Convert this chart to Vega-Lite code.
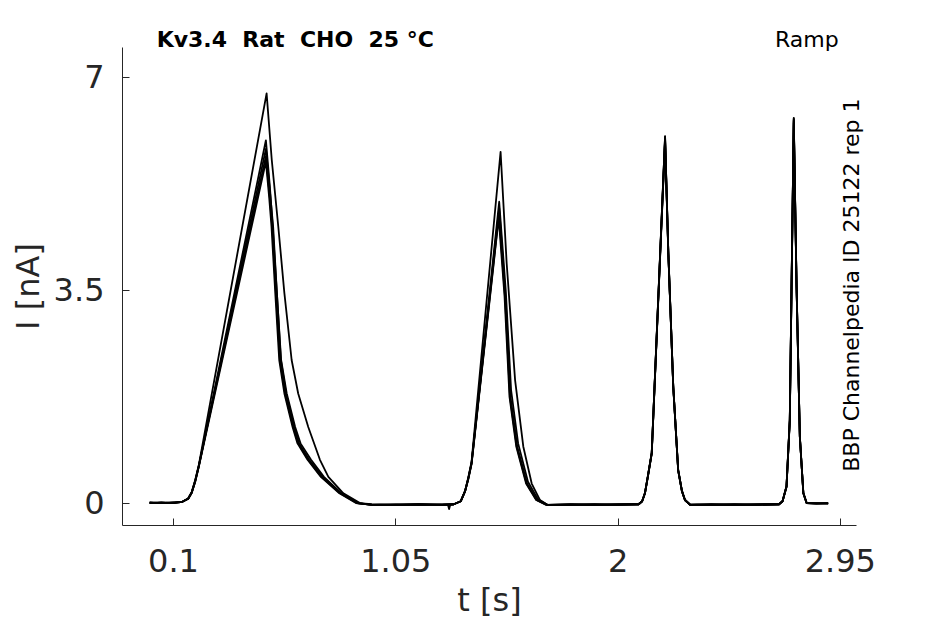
{
  "$schema": "https://vega.github.io/schema/vega-lite/v6.json",
  "width": 734,
  "height": 478,
  "autosize": {"type": "none"},
  "padding": {"left": 122, "top": 47, "right": 89, "bottom": 99},
  "background": "white",
  "datasets": {
    "traces": [
      {"trace": "A", "t": 0, "I": 0}, {"trace": "A", "t": 0.05, "I": 0.01}, {"trace": "A", "t": 0.1, "I": 0}, {"trace": "A", "t": 0.14, "I": 0.02}, {"trace": "A", "t": 0.165, "I": 0.07}, {"trace": "A", "t": 0.18, "I": 0.18}, {"trace": "A", "t": 0.195, "I": 0.38}, {"trace": "A", "t": 0.21, "I": 0.62}, {"trace": "A", "t": 0.5, "I": 6.73}, {"trace": "A", "t": 0.522, "I": 5.64}, {"trace": "A", "t": 0.55, "I": 4.54}, {"trace": "A", "t": 0.576, "I": 3.45}, {"trace": "A", "t": 0.607, "I": 2.35}, {"trace": "A", "t": 0.635, "I": 1.8}, {"trace": "A", "t": 0.678, "I": 1.25}, {"trace": "A", "t": 0.728, "I": 0.71}, {"trace": "A", "t": 0.764, "I": 0.43}, {"trace": "A", "t": 0.828, "I": 0.16}, {"trace": "A", "t": 0.899, "I": 0}, {"trace": "A", "t": 0.95, "I": -0.03}, {"trace": "A", "t": 1.05, "I": -0.03}, {"trace": "A", "t": 1.15, "I": -0.02}, {"trace": "A", "t": 1.25, "I": -0.03}, {"trace": "A", "t": 1.3, "I": -0.02}, {"trace": "A", "t": 1.33, "I": 0.03}, {"trace": "A", "t": 1.348, "I": 0.19}, {"trace": "A", "t": 1.362, "I": 0.42}, {"trace": "A", "t": 1.376, "I": 0.68}, {"trace": "A", "t": 1.5, "I": 5.77}, {"trace": "A", "t": 1.526, "I": 3.94}, {"trace": "A", "t": 1.562, "I": 2.02}, {"trace": "A", "t": 1.597, "I": 0.93}, {"trace": "A", "t": 1.633, "I": 0.32}, {"trace": "A", "t": 1.668, "I": 0.05}, {"trace": "A", "t": 1.7, "I": -0.03}, {"trace": "A", "t": 1.8, "I": -0.03}, {"trace": "A", "t": 1.9, "I": -0.02}, {"trace": "A", "t": 2.0, "I": -0.03}, {"trace": "A", "t": 2.09, "I": -0.02}, {"trace": "A", "t": 2.105, "I": 0.03}, {"trace": "A", "t": 2.117, "I": 0.16}, {"trace": "A", "t": 2.13, "I": 0.45}, {"trace": "A", "t": 2.146, "I": 0.82}, {"trace": "A", "t": 2.203, "I": 6.03}, {"trace": "A", "t": 2.217, "I": 4.1}, {"trace": "A", "t": 2.238, "I": 1.91}, {"trace": "A", "t": 2.259, "I": 0.54}, {"trace": "A", "t": 2.275, "I": 0.2}, {"trace": "A", "t": 2.288, "I": 0.05}, {"trace": "A", "t": 2.31, "I": -0.03}, {"trace": "A", "t": 2.4, "I": -0.03}, {"trace": "A", "t": 2.5, "I": -0.02}, {"trace": "A", "t": 2.6, "I": -0.03}, {"trace": "A", "t": 2.69, "I": -0.02}, {"trace": "A", "t": 2.705, "I": 0.03}, {"trace": "A", "t": 2.722, "I": 0.27}, {"trace": "A", "t": 2.736, "I": 1.36}, {"trace": "A", "t": 2.753, "I": 6.32}, {"trace": "A", "t": 2.765, "I": 3.55}, {"trace": "A", "t": 2.779, "I": 1.09}, {"trace": "A", "t": 2.794, "I": 0.16}, {"trace": "A", "t": 2.808, "I": 0}, {"trace": "A", "t": 2.85, "I": -0.01}, {"trace": "A", "t": 2.9, "I": 0},

      {"trace": "B", "t": 0, "I": 0}, {"trace": "B", "t": 0.05, "I": 0.01}, {"trace": "B", "t": 0.1, "I": 0}, {"trace": "B", "t": 0.14, "I": 0.02}, {"trace": "B", "t": 0.165, "I": 0.07}, {"trace": "B", "t": 0.18, "I": 0.17}, {"trace": "B", "t": 0.195, "I": 0.36}, {"trace": "B", "t": 0.21, "I": 0.6}, {"trace": "B", "t": 0.497, "I": 5.96}, {"trace": "B", "t": 0.514, "I": 5.2}, {"trace": "B", "t": 0.526, "I": 4.54}, {"trace": "B", "t": 0.544, "I": 3.45}, {"trace": "B", "t": 0.562, "I": 2.35}, {"trace": "B", "t": 0.586, "I": 1.8}, {"trace": "B", "t": 0.622, "I": 1.25}, {"trace": "B", "t": 0.645, "I": 0.98}, {"trace": "B", "t": 0.69, "I": 0.71}, {"trace": "B", "t": 0.745, "I": 0.43}, {"trace": "B", "t": 0.82, "I": 0.16}, {"trace": "B", "t": 0.89, "I": 0}, {"trace": "B", "t": 0.95, "I": -0.02}, {"trace": "B", "t": 1.05, "I": -0.03}, {"trace": "B", "t": 1.15, "I": -0.02}, {"trace": "B", "t": 1.25, "I": -0.03}, {"trace": "B", "t": 1.3, "I": -0.02}, {"trace": "B", "t": 1.33, "I": 0.03}, {"trace": "B", "t": 1.348, "I": 0.19}, {"trace": "B", "t": 1.362, "I": 0.4}, {"trace": "B", "t": 1.376, "I": 0.66}, {"trace": "B", "t": 1.494, "I": 4.95}, {"trace": "B", "t": 1.522, "I": 3.5}, {"trace": "B", "t": 1.545, "I": 1.85}, {"trace": "B", "t": 1.575, "I": 0.98}, {"trace": "B", "t": 1.617, "I": 0.35}, {"trace": "B", "t": 1.66, "I": 0.06}, {"trace": "B", "t": 1.7, "I": -0.03}, {"trace": "B", "t": 1.8, "I": -0.02}, {"trace": "B", "t": 1.9, "I": -0.03}, {"trace": "B", "t": 2.0, "I": -0.02}, {"trace": "B", "t": 2.09, "I": -0.02}, {"trace": "B", "t": 2.105, "I": 0.03}, {"trace": "B", "t": 2.117, "I": 0.16}, {"trace": "B", "t": 2.13, "I": 0.45}, {"trace": "B", "t": 2.146, "I": 0.82}, {"trace": "B", "t": 2.203, "I": 6.0}, {"trace": "B", "t": 2.217, "I": 4.1}, {"trace": "B", "t": 2.238, "I": 1.91}, {"trace": "B", "t": 2.259, "I": 0.54}, {"trace": "B", "t": 2.275, "I": 0.2}, {"trace": "B", "t": 2.288, "I": 0.05}, {"trace": "B", "t": 2.31, "I": -0.02}, {"trace": "B", "t": 2.4, "I": -0.03}, {"trace": "B", "t": 2.5, "I": -0.02}, {"trace": "B", "t": 2.6, "I": -0.03}, {"trace": "B", "t": 2.69, "I": -0.02}, {"trace": "B", "t": 2.705, "I": 0.03}, {"trace": "B", "t": 2.722, "I": 0.27}, {"trace": "B", "t": 2.736, "I": 1.36}, {"trace": "B", "t": 2.753, "I": 6.3}, {"trace": "B", "t": 2.765, "I": 3.55}, {"trace": "B", "t": 2.779, "I": 1.09}, {"trace": "B", "t": 2.794, "I": 0.16}, {"trace": "B", "t": 2.808, "I": 0}, {"trace": "B", "t": 2.85, "I": 0}, {"trace": "B", "t": 2.9, "I": -0.01},

      {"trace": "C", "t": 0, "I": 0.01}, {"trace": "C", "t": 0.05, "I": 0}, {"trace": "C", "t": 0.1, "I": 0.01}, {"trace": "C", "t": 0.14, "I": 0.02}, {"trace": "C", "t": 0.165, "I": 0.07}, {"trace": "C", "t": 0.18, "I": 0.17}, {"trace": "C", "t": 0.195, "I": 0.36}, {"trace": "C", "t": 0.21, "I": 0.6}, {"trace": "C", "t": 0.497, "I": 5.82}, {"trace": "C", "t": 0.516, "I": 5.05}, {"trace": "C", "t": 0.528, "I": 4.54}, {"trace": "C", "t": 0.544, "I": 3.45}, {"trace": "C", "t": 0.561, "I": 2.35}, {"trace": "C", "t": 0.583, "I": 1.8}, {"trace": "C", "t": 0.618, "I": 1.25}, {"trace": "C", "t": 0.639, "I": 0.98}, {"trace": "C", "t": 0.682, "I": 0.71}, {"trace": "C", "t": 0.739, "I": 0.43}, {"trace": "C", "t": 0.818, "I": 0.16}, {"trace": "C", "t": 0.889, "I": 0}, {"trace": "C", "t": 0.95, "I": -0.03}, {"trace": "C", "t": 1.05, "I": -0.035}, {"trace": "C", "t": 1.15, "I": -0.03}, {"trace": "C", "t": 1.25, "I": -0.03}, {"trace": "C", "t": 1.275, "I": -0.03}, {"trace": "C", "t": 1.28, "I": -0.1}, {"trace": "C", "t": 1.285, "I": -0.03}, {"trace": "C", "t": 1.3, "I": -0.02}, {"trace": "C", "t": 1.33, "I": 0.03}, {"trace": "C", "t": 1.348, "I": 0.19}, {"trace": "C", "t": 1.362, "I": 0.4}, {"trace": "C", "t": 1.376, "I": 0.65}, {"trace": "C", "t": 1.494, "I": 4.85}, {"trace": "C", "t": 1.521, "I": 3.39}, {"trace": "C", "t": 1.542, "I": 1.75}, {"trace": "C", "t": 1.571, "I": 0.93}, {"trace": "C", "t": 1.613, "I": 0.32}, {"trace": "C", "t": 1.656, "I": 0.05}, {"trace": "C", "t": 1.7, "I": -0.03}, {"trace": "C", "t": 1.8, "I": -0.03}, {"trace": "C", "t": 1.9, "I": -0.035}, {"trace": "C", "t": 2.0, "I": -0.03}, {"trace": "C", "t": 2.09, "I": -0.02}, {"trace": "C", "t": 2.105, "I": 0.03}, {"trace": "C", "t": 2.117, "I": 0.16}, {"trace": "C", "t": 2.13, "I": 0.45}, {"trace": "C", "t": 2.146, "I": 0.82}, {"trace": "C", "t": 2.203, "I": 5.97}, {"trace": "C", "t": 2.217, "I": 4.1}, {"trace": "C", "t": 2.238, "I": 1.91}, {"trace": "C", "t": 2.259, "I": 0.54}, {"trace": "C", "t": 2.275, "I": 0.2}, {"trace": "C", "t": 2.288, "I": 0.05}, {"trace": "C", "t": 2.31, "I": -0.03}, {"trace": "C", "t": 2.4, "I": -0.03}, {"trace": "C", "t": 2.5, "I": -0.035}, {"trace": "C", "t": 2.6, "I": -0.03}, {"trace": "C", "t": 2.69, "I": -0.02}, {"trace": "C", "t": 2.705, "I": 0.03}, {"trace": "C", "t": 2.722, "I": 0.27}, {"trace": "C", "t": 2.736, "I": 1.36}, {"trace": "C", "t": 2.753, "I": 6.28}, {"trace": "C", "t": 2.765, "I": 3.55}, {"trace": "C", "t": 2.779, "I": 1.09}, {"trace": "C", "t": 2.794, "I": 0.16}, {"trace": "C", "t": 2.808, "I": 0}, {"trace": "C", "t": 2.85, "I": -0.01}, {"trace": "C", "t": 2.9, "I": 0},

      {"trace": "D", "t": 0, "I": 0}, {"trace": "D", "t": 0.05, "I": 0}, {"trace": "D", "t": 0.1, "I": 0.01}, {"trace": "D", "t": 0.14, "I": 0.02}, {"trace": "D", "t": 0.165, "I": 0.08}, {"trace": "D", "t": 0.18, "I": 0.18}, {"trace": "D", "t": 0.195, "I": 0.37}, {"trace": "D", "t": 0.21, "I": 0.61}, {"trace": "D", "t": 0.497, "I": 5.7}, {"trace": "D", "t": 0.513, "I": 5.05}, {"trace": "D", "t": 0.524, "I": 4.54}, {"trace": "D", "t": 0.54, "I": 3.45}, {"trace": "D", "t": 0.557, "I": 2.35}, {"trace": "D", "t": 0.579, "I": 1.8}, {"trace": "D", "t": 0.614, "I": 1.25}, {"trace": "D", "t": 0.635, "I": 0.98}, {"trace": "D", "t": 0.678, "I": 0.71}, {"trace": "D", "t": 0.735, "I": 0.43}, {"trace": "D", "t": 0.814, "I": 0.16}, {"trace": "D", "t": 0.885, "I": 0}, {"trace": "D", "t": 0.95, "I": -0.03}, {"trace": "D", "t": 1.05, "I": -0.02}, {"trace": "D", "t": 1.15, "I": -0.03}, {"trace": "D", "t": 1.25, "I": -0.02}, {"trace": "D", "t": 1.3, "I": -0.02}, {"trace": "D", "t": 1.33, "I": 0.03}, {"trace": "D", "t": 1.348, "I": 0.2}, {"trace": "D", "t": 1.362, "I": 0.41}, {"trace": "D", "t": 1.376, "I": 0.66}, {"trace": "D", "t": 1.493, "I": 4.75}, {"trace": "D", "t": 1.519, "I": 3.39}, {"trace": "D", "t": 1.54, "I": 1.75}, {"trace": "D", "t": 1.569, "I": 0.93}, {"trace": "D", "t": 1.611, "I": 0.32}, {"trace": "D", "t": 1.654, "I": 0.05}, {"trace": "D", "t": 1.697, "I": -0.03}, {"trace": "D", "t": 1.8, "I": -0.02}, {"trace": "D", "t": 1.9, "I": -0.03}, {"trace": "D", "t": 2.0, "I": -0.02}, {"trace": "D", "t": 2.09, "I": -0.02}, {"trace": "D", "t": 2.105, "I": 0.03}, {"trace": "D", "t": 2.117, "I": 0.17}, {"trace": "D", "t": 2.13, "I": 0.46}, {"trace": "D", "t": 2.146, "I": 0.83}, {"trace": "D", "t": 2.203, "I": 6.02}, {"trace": "D", "t": 2.217, "I": 4.12}, {"trace": "D", "t": 2.238, "I": 1.92}, {"trace": "D", "t": 2.259, "I": 0.55}, {"trace": "D", "t": 2.275, "I": 0.2}, {"trace": "D", "t": 2.288, "I": 0.05}, {"trace": "D", "t": 2.31, "I": -0.03}, {"trace": "D", "t": 2.4, "I": -0.02}, {"trace": "D", "t": 2.5, "I": -0.03}, {"trace": "D", "t": 2.6, "I": -0.02}, {"trace": "D", "t": 2.69, "I": -0.02}, {"trace": "D", "t": 2.705, "I": 0.03}, {"trace": "D", "t": 2.722, "I": 0.28}, {"trace": "D", "t": 2.736, "I": 1.38}, {"trace": "D", "t": 2.753, "I": 6.33}, {"trace": "D", "t": 2.765, "I": 3.57}, {"trace": "D", "t": 2.779, "I": 1.1}, {"trace": "D", "t": 2.794, "I": 0.17}, {"trace": "D", "t": 2.808, "I": 0}, {"trace": "D", "t": 2.85, "I": -0.01}, {"trace": "D", "t": 2.9, "I": 0},

      {"trace": "E", "t": 0, "I": 0.01}, {"trace": "E", "t": 0.05, "I": 0}, {"trace": "E", "t": 0.1, "I": 0}, {"trace": "E", "t": 0.14, "I": 0.02}, {"trace": "E", "t": 0.165, "I": 0.07}, {"trace": "E", "t": 0.18, "I": 0.17}, {"trace": "E", "t": 0.195, "I": 0.35}, {"trace": "E", "t": 0.21, "I": 0.59}, {"trace": "E", "t": 0.497, "I": 5.61}, {"trace": "E", "t": 0.511, "I": 5.02}, {"trace": "E", "t": 0.521, "I": 4.54}, {"trace": "E", "t": 0.537, "I": 3.45}, {"trace": "E", "t": 0.554, "I": 2.35}, {"trace": "E", "t": 0.576, "I": 1.8}, {"trace": "E", "t": 0.611, "I": 1.25}, {"trace": "E", "t": 0.632, "I": 0.98}, {"trace": "E", "t": 0.675, "I": 0.71}, {"trace": "E", "t": 0.732, "I": 0.43}, {"trace": "E", "t": 0.811, "I": 0.16}, {"trace": "E", "t": 0.882, "I": 0}, {"trace": "E", "t": 0.95, "I": -0.03}, {"trace": "E", "t": 1.05, "I": -0.03}, {"trace": "E", "t": 1.15, "I": -0.02}, {"trace": "E", "t": 1.25, "I": -0.03}, {"trace": "E", "t": 1.3, "I": -0.02}, {"trace": "E", "t": 1.33, "I": 0.03}, {"trace": "E", "t": 1.348, "I": 0.19}, {"trace": "E", "t": 1.362, "I": 0.39}, {"trace": "E", "t": 1.376, "I": 0.64}, {"trace": "E", "t": 1.492, "I": 4.68}, {"trace": "E", "t": 1.517, "I": 3.39}, {"trace": "E", "t": 1.538, "I": 1.75}, {"trace": "E", "t": 1.567, "I": 0.93}, {"trace": "E", "t": 1.609, "I": 0.32}, {"trace": "E", "t": 1.652, "I": 0.05}, {"trace": "E", "t": 1.695, "I": -0.03}, {"trace": "E", "t": 1.8, "I": -0.03}, {"trace": "E", "t": 1.9, "I": -0.02}, {"trace": "E", "t": 2.0, "I": -0.03}, {"trace": "E", "t": 2.09, "I": -0.02}, {"trace": "E", "t": 2.105, "I": 0.03}, {"trace": "E", "t": 2.117, "I": 0.16}, {"trace": "E", "t": 2.13, "I": 0.44}, {"trace": "E", "t": 2.146, "I": 0.81}, {"trace": "E", "t": 2.203, "I": 5.95}, {"trace": "E", "t": 2.217, "I": 4.08}, {"trace": "E", "t": 2.238, "I": 1.9}, {"trace": "E", "t": 2.259, "I": 0.53}, {"trace": "E", "t": 2.275, "I": 0.19}, {"trace": "E", "t": 2.288, "I": 0.05}, {"trace": "E", "t": 2.31, "I": -0.03}, {"trace": "E", "t": 2.4, "I": -0.02}, {"trace": "E", "t": 2.5, "I": -0.03}, {"trace": "E", "t": 2.6, "I": -0.02}, {"trace": "E", "t": 2.69, "I": -0.02}, {"trace": "E", "t": 2.705, "I": 0.03}, {"trace": "E", "t": 2.722, "I": 0.26}, {"trace": "E", "t": 2.736, "I": 1.34}, {"trace": "E", "t": 2.753, "I": 6.25}, {"trace": "E", "t": 2.765, "I": 3.53}, {"trace": "E", "t": 2.779, "I": 1.08}, {"trace": "E", "t": 2.794, "I": 0.16}, {"trace": "E", "t": 2.808, "I": 0}, {"trace": "E", "t": 2.85, "I": 0}, {"trace": "E", "t": 2.9, "I": -0.01}
    ]
  },
  "layer": [
    {
      "data": {"name": "traces"},
      "mark": {"type": "line", "color": "black", "strokeWidth": 1.8, "strokeJoin": "round"},
      "encoding": {
        "x": {
          "field": "t",
          "type": "quantitative",
          "title": "t [s]",
          "scale": {"domain": [-0.118, 3.019], "nice": false, "zero": false},
          "axis": {"values": [0.1, 1.05, 2, 2.95], "labelExpr": "datum.value + ''", "labelPadding": 28, "titlePadding": 8, "labelFlush": false, "labelOverlap": false}
        },
        "y": {
          "field": "I",
          "type": "quantitative",
          "title": "I [nA]",
          "scale": {"domain": [-0.361, 7.493], "nice": false, "zero": false},
          "axis": {"values": [0, 3.5, 7], "labelExpr": "datum.value + ''", "labelPadding": 25, "titlePadding": 8, "labelOverlap": false}
        },
        "detail": {"field": "trace"},
        "order": {"field": "t", "type": "quantitative"}
      }
    },
    {
      "data": {"values": [{}]},
      "mark": {"type": "text", "font": "DejaVu Sans", "fontWeight": "bold", "fontSize": 22, "align": "left", "baseline": "alphabetic", "color": "black"},
      "encoding": {
        "x": {"datum": 0.03, "type": "quantitative"},
        "y": {"datum": 7.5, "type": "quantitative"},
        "text": {"value": "Kv3.4 \u00a0Rat \u00a0CHO \u00a025 °C"}
      }
    },
    {
      "data": {"values": [{}]},
      "mark": {"type": "text", "font": "DejaVu Sans", "fontSize": 22, "align": "center", "baseline": "alphabetic", "color": "black"},
      "encoding": {
        "x": {"datum": 2.809, "type": "quantitative"},
        "y": {"datum": 7.5, "type": "quantitative"},
        "text": {"value": "Ramp"}
      }
    },
    {
      "data": {"values": [{}]},
      "mark": {"type": "text", "font": "DejaVu Sans", "fontSize": 22, "angle": 270, "align": "center", "baseline": "alphabetic", "color": "black"},
      "encoding": {
        "x": {"datum": 3.032, "type": "quantitative"},
        "y": {"datum": 3.58, "type": "quantitative"},
        "text": {"value": "BBP Channelpedia ID 25122 rep 1"}
      }
    }
  ],
  "config": {
    "view": {"stroke": null},
    "font": "DejaVu Sans",
    "axis": {
      "grid": false,
      "domainColor": "#262626",
      "domainWidth": 1,
      "tickColor": "#262626",
      "tickWidth": 1,
      "tickSize": -7,
      "labelColor": "#262626",
      "titleColor": "#262626",
      "labelFont": "DejaVu Sans",
      "titleFont": "DejaVu Sans",
      "labelFontSize": 32,
      "titleFontSize": 32,
      "titleFontWeight": "normal"
    }
  }
}
